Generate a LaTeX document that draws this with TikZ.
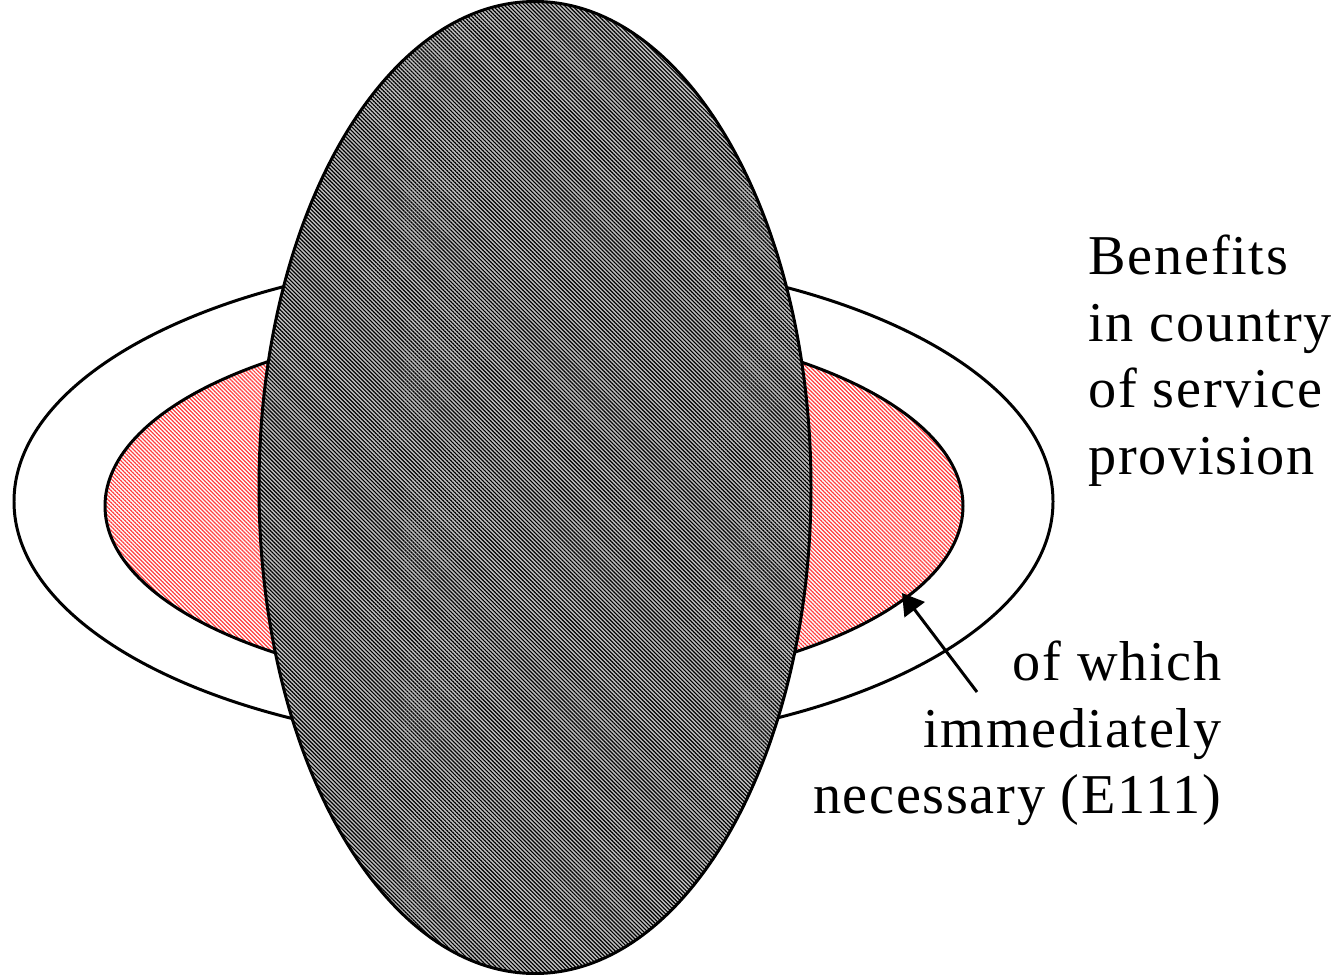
\documentclass[tikz,border=0pt]{standalone}
\usepackage{fontspec}
\setmainfont{Liberation Serif}[LetterSpace=3]
\usetikzlibrary{patterns.meta,arrows.meta}

\begin{document}
\begin{tikzpicture}[
  ring/.style={draw=black,line width=0.85pt},
  blurb/.style={inner sep=0pt,font=\fontsize{16}{19}\selectfont}]
\useasboundingbox (0,0) rectangle (13.390,-9.760);
\draw[ring,fill=white] (5.335,-5.015) ellipse (5.195 and 2.450);
\draw[ring,fill=white,pattern={Lines[angle=-45,distance=0.8pt,line width=0.35pt]},pattern color=red!75] (5.340,-5.060) ellipse (4.290 and 1.840);
\fill[black!25] (5.350,-4.875) ellipse (2.760 and 4.860);
\draw[ring,pattern={Lines[angle=-45,distance=0.8pt,line width=0.33pt]},pattern color=black] (5.350,-4.875) ellipse (2.760 and 4.860);
\node[blurb,anchor=north west,align=left] (benefits) at (10.880,-2.340) {Benefits\\in country\\of service\\provision};
\node[blurb,anchor=north east,align=right] (urgent) at (12.220,-6.400) {of which\\immediately\\necessary (E111)};
\coordinate (tail) at (9.770,-6.920);
\coordinate (tip) at (9.020,-5.930);
\draw[line width=0.85pt,-{Triangle[length=0.21cm,width=0.25cm]}] (tail) -- (tip);
\end{tikzpicture}
\end{document}
